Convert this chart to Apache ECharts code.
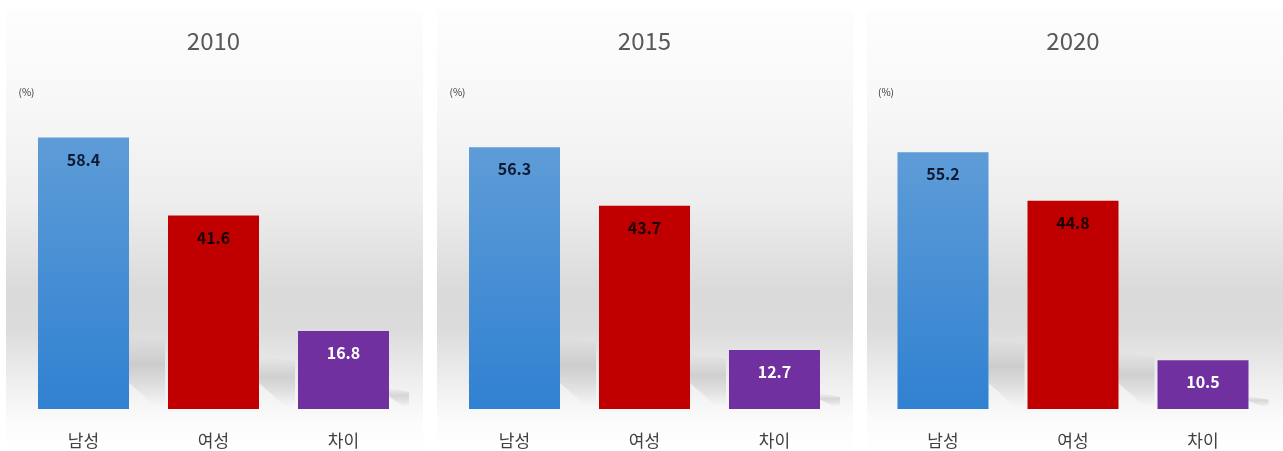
<!DOCTYPE html>
<html>
<head>
<meta charset="utf-8">
<script src="https://cdn.jsdelivr.net/npm/echarts@6/dist/echarts.min.js"></script>
<style>
  html, body { margin: 0; padding: 0; background: #fff; }
  #chart { width: 1283px; height: 451px; }
</style>
</head>
<body>
<div id="chart"></div>
<script>
// 연도별 남성/여성 비율과 차이 (%)
const years = ['2010', '2015', '2020']
const categories = ['남성', '여성', '차이']
const male = [58.4, 56.3, 55.2]
const female = [41.6, 43.7, 44.8]
const gap = [16.8, 12.7, 10.5]

const FONT = '"Noto Sans CJK KR", "Noto Sans", sans-serif'
const gridLefts = [18.5, 449.5, 878]
const panelBoxes = [[6, 417], [437, 416], [867, 416]]

const blueFill = {
  type: 'linear', x: 0, y: 0, x2: 0, y2: 1,
  colorStops: [{ offset: 0, color: '#5e9cd7' }, { offset: 1, color: '#3081d1' }]
}
const barColors = [blueFill, '#c00000', '#7030a0']
const labelColors = ['#0e1a33', '#1a0000', '#ffffff']

let option = {
  animation: false,
  backgroundColor: '#ffffff',
  title: [],
  grid: [],
  xAxis: [],
  yAxis: [],
  series: [],
  graphic: []
}

panelBoxes.forEach(b => {
  option.graphic.push({
    type: 'rect',
    z: -100,
    silent: true,
    shape: { x: b[0], y: 10, width: b[1], height: 441 },
    style: {
      fill: {
        type: 'linear', x: 0, y: 0, x2: 0, y2: 1,
        colorStops: [
          { offset: 0, color: '#fdfdfd' },
          { offset: 0.2, color: '#f8f8f8' },
          { offset: 0.43, color: '#eeeeee' },
          { offset: 0.64, color: '#dadada' },
          { offset: 0.72, color: '#dbdbdb' },
          { offset: 0.84, color: '#eeeeee' },
          { offset: 0.93, color: '#fbfbfb' },
          { offset: 1, color: '#ffffff' }
        ]
      }
    }
  })
})

years.forEach((year, i) => {
  const vals = [male[i], female[i], gap[i]]
  option.title.push({
    text: year,
    left: gridLefts[i] + 195,
    textAlign: 'center',
    top: 29,
    padding: 0,
    textStyle: { fontFamily: FONT, fontSize: 24, fontWeight: 'normal', color: '#595959' }
  })
  option.grid.push({ left: gridLefts[i], width: 390, top: 130, bottom: 42 })
  option.xAxis.push({
    type: 'category',
    gridIndex: i,
    data: categories,
    axisLine: { show: false },
    axisTick: { show: false },
    axisLabel: { fontFamily: FONT, fontSize: 17, color: '#404040', margin: 23 }
  })
  option.yAxis.push({
    type: 'value',
    gridIndex: i,
    min: 0,
    max: 60,
    name: '(%)',
    nameLocation: 'end',
    nameGap: 33,
    nameTextStyle: { fontFamily: FONT, fontSize: 10, color: '#333333', align: 'left' },
    axisLine: { show: false },
    axisTick: { show: false },
    axisLabel: { show: false },
    splitLine: { show: false }
  })
  // 막대 뒤 그림자
  option.series.push({
    type: 'custom',
    xAxisIndex: i,
    yAxisIndex: i,
    z: 1,
    silent: true,
    data: vals.map((v, k) => [k, v]),
    encode: { x: 0, y: 1 },
    renderItem: (params, api) => {
      const k = api.value(0)
      const base = api.coord([k, 0])
      const top = api.coord([k, api.value(1)])
      const right = base[0] + api.size([1, 0])[0] * 0.35
      const h = (base[1] - top[1]) * 0.27
      const w = k === 2 ? 20 : 36
      const cut = Math.min(26, h * 0.6)
      return {
        type: 'polygon',
        shape: {
          points: [
            [right, base[1] - h],
            [right + w, base[1] - h + 4],
            [right + w, base[1] - 5],
            [right + w * 0.75, base[1] - 2],
            [right, base[1] - cut]
          ]
        },
        style: {
          fill: {
            type: 'linear', x: 0, y: 0, x2: 0, y2: 1,
            colorStops: [
              { offset: 0, color: 'rgba(0,0,0,0)' },
              { offset: 0.4, color: 'rgba(0,0,0,0.12)' },
              { offset: 0.7, color: 'rgba(0,0,0,0.07)' },
              { offset: 1, color: 'rgba(0,0,0,0)' }
            ]
          }
        }
      }
    }
  })
  option.series.push({
    type: 'bar',
    xAxisIndex: i,
    yAxisIndex: i,
    z: 2,
    barWidth: '70%',
    data: vals.map((v, k) => ({
      value: v,
      itemStyle: { color: barColors[k] },
      label: { color: labelColors[k] }
    })),
    label: {
      show: true,
      position: 'insideTop',
      distance: 14,
      fontFamily: FONT,
      fontSize: 16,
      fontWeight: 'bold'
    }
  })
})

let myChart = echarts.init(document.getElementById('chart'))
myChart.setOption(option)
</script>
</body>
</html>
